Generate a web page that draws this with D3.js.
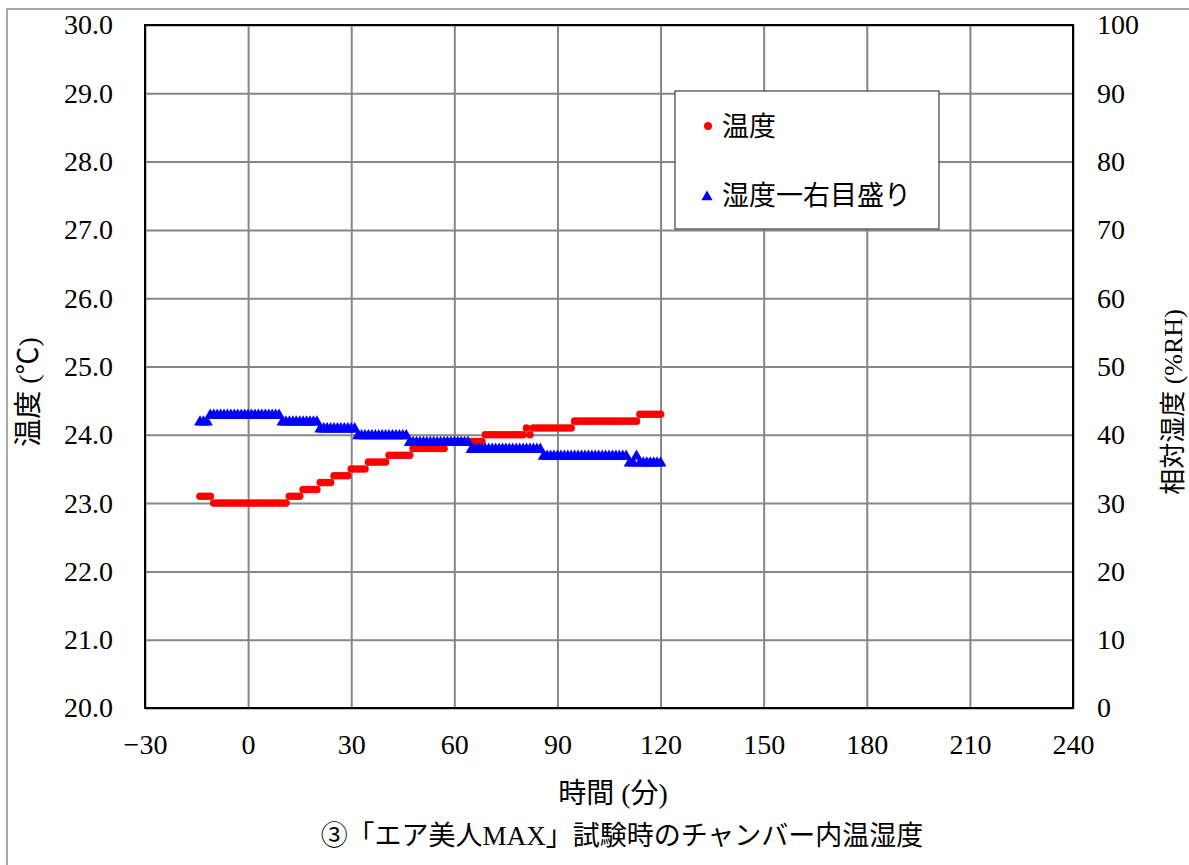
<!DOCTYPE html>
<html><head><meta charset="utf-8">
<script src="https://cdn.jsdelivr.net/npm/d3@7"></script>
<style>body{margin:0;background:#fff}svg{display:block}</style>
</head><body>
<svg id="c" width="1189" height="865"></svg>
<script>
// ---- data ----
const timeMin = [-14,-13,-12,-11,-10,-9,-8,-7,-6,-5,-4,-3,-2,-1,0,1,2,3,4,5,6,7,8,9,10,
  11,12,13,14,15,16,17,18,19,20,21,22,23,24,25,26,27,28,29,30,31,32,33,34,35,36,37,38,39,40,
  41,42,43,44,45,46,47,48,49,50,51,52,53,54,55,56,57,58,59,60,61,62,63,64,65,66,67,68,69,70,
  71,72,73,74,75,76,77,78,79,80,81,82,83,84,85,86,87,88,89,90,91,92,93,94,95,96,97,98,99,100,
  101,102,103,104,105,106,107,108,109,110,111,112,113,114,115,116,117,118,119,120];
const temperature = [23.1,23.1,23.1,23.1,
  23.0,23.0,23.0,23.0,23.0,23.0,23.0,23.0,23.0,23.0,23.0,23.0,23.0,23.0,23.0,23.0,23.0,23.0,23.0,23.0,23.0,23.0,
  23.1,23.1,23.1,23.1,
  23.2,23.2,23.2,23.2,23.2,
  23.3,23.3,23.3,23.3,
  23.4,23.4,23.4,23.4,23.4,
  23.5,23.5,23.5,23.5,23.5,
  23.6,23.6,23.6,23.6,23.6,23.6,
  23.7,23.7,23.7,23.7,23.7,23.7,23.7,
  23.8,23.8,23.8,23.8,23.8,23.8,23.8,23.8,23.8,23.8,
  23.9,23.9,23.9,23.9,23.9,23.9,23.9,23.9,23.9,23.9,23.9,
  24.0,24.0,24.0,24.0,24.0,24.0,24.0,24.0,24.0,24.0,24.0,24.0,
  24.1,24.0,
  24.1,24.1,24.1,24.1,24.1,24.1,24.1,24.1,24.1,24.1,24.1,24.1,
  24.2,24.2,24.2,24.2,24.2,24.2,24.2,24.2,24.2,24.2,24.2,24.2,24.2,24.2,24.2,24.2,24.2,24.2,24.2,
  24.3,24.3,24.3,24.3,24.3,24.3,24.3];
const humidity = [42,42,42,
  43,43,43,43,43,43,43,43,43,43,43,43,43,43,43,43,43,43,43,43,43,
  42,42,42,42,42,42,42,42,42,42,42,
  41,41,41,41,41,41,41,41,41,41,41,
  40,40,40,40,40,40,40,40,40,40,40,40,40,40,40,
  39,39,39,39,39,39,39,39,39,39,39,39,39,39,39,39,39,39,
  38,38,38,38,38,38,38,38,38,38,38,38,38,38,38,38,38,38,38,38,38,
  37,37,37,37,37,37,37,37,37,37,37,37,37,37,37,37,37,37,37,37,37,37,37,37,37,
  36,36,37,
  36,36,36,36,36,36,36];
const xTicks = [-30,0,30,60,90,120,150,180,210,240];
const yLeftTicks = [20,21,22,23,24,25,26,27,28,29,30];
const yRightTicks = [0,10,20,30,40,50,60,70,80,90,100];
const seriesNames = ["温度","湿度一右目盛り"];
const xTitle = "時間 (分)";
const yLeftTitle = "温度 (℃)";
const yRightTitle = "相対湿度 (%RH)";
const caption = "③「エア美人MAX」試験時のチャンバー内温湿度";

// ---- layout ----
const L = 145, R = 1073, T = 25, B = 708;
const serif = "'Liberation Serif','Noto Sans CJK JP',serif";
const svg = d3.select("#c");

svg.append("rect").attr("x",7).attr("y",9).attr("width",1200).attr("height",900)
  .attr("fill","#fff").attr("stroke","#8a8a8a").attr("stroke-width",1.5);

const x = d3.scaleLinear().domain([-30,240]).range([L,R]);
const yL = d3.scaleLinear().domain([20,30]).range([B,T]);
const yR = d3.scaleLinear().domain([0,100]).range([B,T]);

// gridlines
const gx = svg.append("g").attr("transform",`translate(0,${B})`)
  .call(d3.axisBottom(x).tickValues(xTicks).tickSize(-(B-T)).tickFormat(""));
const gy = svg.append("g").attr("transform",`translate(${L},0)`)
  .call(d3.axisLeft(yL).tickValues(yLeftTicks).tickSize(-(R-L)).tickFormat(""));
[gx,gy].forEach(g=>{g.select(".domain").remove();
  g.selectAll("line").attr("stroke","#868686").attr("stroke-width",2);});

// tick labels
const ax = svg.append("g").attr("transform",`translate(0,${B})`)
  .call(d3.axisBottom(x).tickValues(xTicks).tickSize(0).tickPadding(26));
const ayl = svg.append("g").attr("transform",`translate(${L},0)`)
  .call(d3.axisLeft(yL).tickValues(yLeftTicks).tickSize(0).tickPadding(32).tickFormat(d3.format(".1f")));
const ayr = svg.append("g").attr("transform",`translate(${R},0)`)
  .call(d3.axisRight(yR).tickValues(yRightTicks).tickSize(0).tickPadding(24));
[ax,ayl,ayr].forEach(g=>{g.select(".domain").remove();
  g.selectAll("text").attr("font-family",serif).attr("font-size",28).attr("fill","#000");});

// plot border
svg.append("rect").attr("x",L).attr("y",T).attr("width",R-L).attr("height",B-T)
  .attr("fill","none").attr("stroke","#000").attr("stroke-width",2);

const pts = timeMin.map((t,i)=>({t, temp:temperature[i], hum:humidity[i]}));
const tri = d3.symbol().type(d3.symbolTriangle).size(62);

// temperature points
svg.append("g").selectAll("circle").data(pts).join("circle")
  .attr("cx",d=>x(d.t)).attr("cy",d=>yL(d.temp)).attr("r",3.8).attr("fill","#ff0000");
// humidity points
svg.append("g").selectAll("path").data(pts).join("path")
  .attr("d",tri).attr("transform",d=>`translate(${x(d.t)},${yR(d.hum)+1})`).attr("fill","#0000ff");

// legend
const lg = svg.append("g");
lg.append("rect").attr("x",675).attr("y",91).attr("width",264).attr("height",138)
  .attr("fill","#fff").attr("stroke","#404040").attr("stroke-width",1.2);
lg.append("circle").attr("cx",708).attr("cy",126).attr("r",4).attr("fill","#ff0000");
lg.append("path").attr("d",d3.symbol().type(d3.symbolTriangle).size(55)).attr("transform","translate(707,197)").attr("fill","#0000ff");
lg.append("text").attr("x",722).attr("y",127).attr("dominant-baseline","central")
  .attr("font-family",serif).attr("font-size",27).text(seriesNames[0]);
lg.append("text").attr("x",722).attr("y",196).attr("dominant-baseline","central")
  .attr("font-family",serif).attr("font-size",27).text(seriesNames[1]);

// titles
svg.append("text").attr("x",613).attr("y",793).attr("text-anchor","middle").attr("dominant-baseline","central")
  .attr("font-family",serif).attr("font-size",28).text(xTitle);
svg.append("text").attr("transform","translate(28,392) rotate(-90)").attr("text-anchor","middle")
  .attr("dominant-baseline","central").attr("font-family",serif).attr("font-size",28).text(yLeftTitle);
svg.append("text").attr("transform","translate(1173,402) rotate(-90)").attr("text-anchor","middle")
  .attr("dominant-baseline","central").attr("font-family",serif).attr("font-size",26).text(yRightTitle);
svg.append("text").attr("x",622).attr("y",836).attr("text-anchor","middle").attr("dominant-baseline","central")
  .attr("font-family",serif).attr("font-size",27).text(caption);
</script>
</body></html>
